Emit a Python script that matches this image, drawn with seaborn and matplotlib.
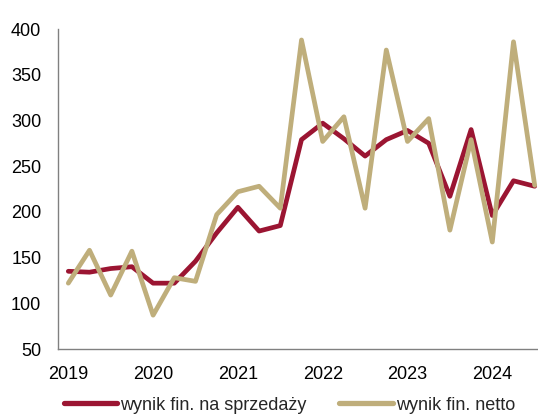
import matplotlib
matplotlib.use("Agg")
import matplotlib.pyplot as plt
import seaborn as sns
import pandas as pd
import numpy as np
from matplotlib.ticker import FixedLocator

quarters = ["2019Q1", "2019Q2", "2019Q3", "2019Q4",
            "2020Q1", "2020Q2", "2020Q3", "2020Q4",
            "2021Q1", "2021Q2", "2021Q3", "2021Q4",
            "2022Q1", "2022Q2", "2022Q3", "2022Q4",
            "2023Q1", "2023Q2", "2023Q3", "2023Q4",
            "2024Q1", "2024Q2", "2024Q3"]
sales_result = [135, 134, 138, 140, 122, 122, 146, 177, 205, 179, 185, 279,
                297, 280, 261, 279, 289, 275, 217, 290, 196, 234, 228]
net_result = [122, 158, 109, 157, 87, 128, 124, 197, 222, 228, 204, 388,
              277, 304, 204, 377, 277, 302, 180, 279, 167, 386, 229]
year_labels = ["2019", "2020", "2021", "2022", "2023", "2024"]
series_names = ["wynik fin. na sprzedaży", "wynik fin. netto"]

sns.set_style("white")
font = ["Liberation Sans", "DejaVu Sans"]
plt.rcParams["font.family"] = font
FS = 13

df = pd.DataFrame({
    "idx": np.arange(len(quarters)),
    "quarter": quarters,
    series_names[0]: sales_result,
    series_names[1]: net_result,
})
long = df.melt(id_vars=["idx", "quarter"], value_vars=series_names,
               var_name="seria", value_name="wartosc")

fig = plt.figure(figsize=(5.38, 4.16), dpi=100)
ax = fig.add_axes([57.7 / 538, 67 / 416, 487.6 / 538, 320 / 416])

palette = {series_names[0]: "#9B1532", series_names[1]: "#BFAE7B"}
sns.lineplot(data=long, x="idx", y="wartosc", hue="seria", palette=palette,
             hue_order=series_names, linewidth=3.4, ax=ax, legend=True)
for ln in ax.lines:
    ln.set_solid_joinstyle("round")
    ln.set_solid_capstyle("round")

ax.set_xlim(-0.5, len(quarters) - 0.5)
ax.set_ylim(50, 400)
ax.set_yticks([50, 100, 150, 200, 250, 300, 350, 400])
ax.set_xticks([i * 4 for i in range(len(year_labels))])
ax.set_xticklabels(year_labels)
ax.xaxis.set_minor_locator(FixedLocator(np.arange(-0.5, len(quarters) + 0.5, 1)))
ax.tick_params(axis="x", which="major", length=0, pad=12.5, labelsize=FS, colors="black")
ax.tick_params(axis="x", which="minor", length=4, width=1, color="#808080", direction="out")
ax.tick_params(axis="y", which="major", length=4.3, width=1, color="#808080",
               direction="out", labelsize=FS, pad=7.5)
ax.tick_params(axis="y", labelcolor="black")

ax.set_xlabel("")
ax.set_ylabel("")
for s in ["top", "right"]:
    ax.spines[s].set_visible(False)
for s in ["left", "bottom"]:
    ax.spines[s].set_color("#808080")
    ax.spines[s].set_linewidth(1)
ax.grid(False)

ax.get_legend().remove()
handles, labels = ax.get_legend_handles_labels()
leg = fig.legend(handles, labels, loc="center", bbox_to_anchor=(289.5 / 538, 1 - 405 / 416),
                 ncol=2, frameon=False, handlelength=2.95, handletextpad=0.17,
                 columnspacing=1.8, prop={"size": FS}, borderaxespad=0)
for h in leg.get_lines():
    h.set_linewidth(3.8)
    h.set_solid_capstyle("round")

fig.savefig("out.png", dpi=100)
